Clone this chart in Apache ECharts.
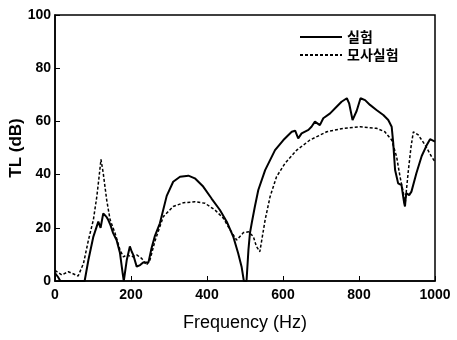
<!DOCTYPE html>
<html><head><meta charset="utf-8">
<script src="https://cdn.jsdelivr.net/npm/echarts@6/dist/echarts.min.js"></script>
<style>html,body{margin:0;padding:0;background:#fff}#c{width:457px;height:340px}</style>
</head><body><div id="c"></div>
<script>
var seriesNames = ['실험', '모사실험'];
var xTicks = [0, 200, 400, 600, 800, 1000];
var yTicks = [0, 20, 40, 60, 80, 100];
var expX = [0,8,14,78,88,101,114,120,127,132,136,140,146,153,162,171,178,181,186,189,197,202,206,215,224,232,246,254,263,276,294,311,329,351,368,390,412,434,452,469,482,491,497,504,509,513,518,526,535,553,579,601,623,632,640,649,667,675,684,697,706,724,741,754,768,774,783,794,804,816,829,846,864,877,886,890,895,903,912,916,919,921,924,932,938,951,965,978,987,1000];
var expY = [3,1.5,0,0,8,16.7,22.3,20,25.4,26,24,23,21,18,15.4,10.5,3,0,0,8,13,11,9.8,5.4,6,7,7,12.3,17,21.7,32,37.3,39.2,39.6,38.6,35.5,31,26.7,22.3,16.7,10.4,5.4,0,0,11.6,18,22,28,34.2,41.7,49.2,53,56.1,56.5,53.6,55.5,56.8,58,59.9,58.6,61.2,63,65.5,67.4,68.7,66.8,60.5,64,68.7,68,66.2,64.3,62.4,60.5,58,52,41.7,36.7,36,32,29.2,28,33,32.3,33.6,40.5,47,51,53.3,52.4];
var simX = [0,18,35,61,75,88,101,110,116,121,127,136,145,158,171,180,189,202,215,228,241,250,263,285,311,338,368,395,421,443,461,478,496,509,522,530,539,553,566,583,605,636,671,715,759,803,846,868,886,899,908,917,921,930,937,943,956,974,991,1000];
var simY = [4,2.3,3.5,1.9,6.6,15.4,23,31.7,39.2,45.7,40.5,30.5,23,18,11.7,9.1,9.8,9.1,9.8,8.5,6,8,15,24.2,28,29.4,29.8,29.2,26.7,23.6,19.2,15.4,18.2,18.5,16.7,13,11,23,31.7,39.2,44.2,49.2,53,56.1,57.4,58,57.4,56.1,53,46.7,39.2,33,28.6,41.7,50.5,56.1,54.9,51.1,46.7,44.8];

function pairs(xs, ys){ return xs.map(function(x,i){return [x, ys[i]];}); }
var lblFont = {color:'#000', fontFamily:'Arial', fontWeight:'bold', fontSize:14};
var chart = echarts.init(document.getElementById('c'));
chart.setOption({
  animation:false,
  backgroundColor:'#fff',
  grid:{left:55, right:22, top:15, bottom:59, containLabel:false, outerBoundsMode:'none',
        show:true, borderColor:'#000', borderWidth:1.5, backgroundColor:'transparent'},
  legend:{
    orient:'vertical', left:294, top:25, itemWidth:42, itemHeight:10, itemGap:4,
    itemStyle:{color:'transparent', borderWidth:0, opacity:0},
    textStyle:{color:'#000', fontFamily:'Noto Sans CJK KR', fontWeight:'bold', fontSize:14},
    data:seriesNames
  },
  xAxis:{
    type:'value', min:0, max:1000, interval:200,
    name:'Frequency (Hz)', nameLocation:'middle', nameGap:33, nameMoveOverlap:false,
    nameTextStyle:{color:'#000', fontFamily:'Arial', fontSize:18, fontWeight:'normal'},
    axisLine:{lineStyle:{color:'#000', width:1.5}},
    axisTick:{inside:true, length:5, lineStyle:{color:'#000'}},
    axisLabel:Object.assign({margin:7, formatter:function(v){return xTicks.indexOf(v)>=0?String(v):'';}}, lblFont),
    splitLine:{show:false}
  },
  yAxis:{
    type:'value', min:0, max:100, interval:20,
    name:'TL (dB)', nameLocation:'middle', nameGap:30, nameRotate:90, nameMoveOverlap:false,
    nameTextStyle:{color:'#000', fontFamily:'Arial', fontSize:17, fontWeight:'bold'},
    axisLine:{lineStyle:{color:'#000', width:1.5}},
    axisTick:{inside:true, length:5, lineStyle:{color:'#000'}},
    axisLabel:Object.assign({margin:4, formatter:function(v){return yTicks.indexOf(v)>=0?String(v):'';}}, lblFont),
    splitLine:{show:false}
  },
  series:[
    {name:seriesNames[0], type:'line', data:pairs(expX, expY), symbol:'none', showSymbol:false, smooth:false,
     lineStyle:{color:'#000', width:2}, itemStyle:{color:'#000'}},
    {name:seriesNames[1], type:'line', data:pairs(simX, simY), symbol:'none', showSymbol:false, smooth:false,
     lineStyle:{color:'#000', width:1.5, type:[3,2]}, itemStyle:{color:'#000'}}
  ]
});
</script></body></html>
